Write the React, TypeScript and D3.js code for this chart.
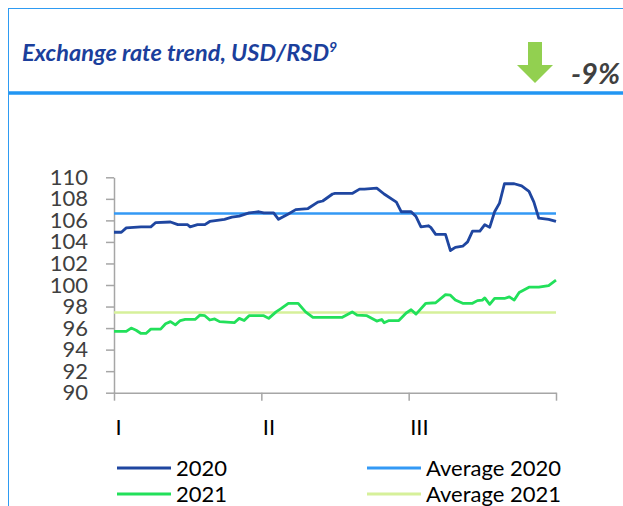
import React, { useEffect, useRef } from "react";
import * as d3 from "d3";

// ---- data (x = trading day within Q1–Q3, y = USD/RSD rate) ----
const days2020 = [0, 3, 5, 11, 15, 17, 23, 26, 30, 31, 34, 37, 39, 45, 48, 51, 55, 59, 61, 65, 67, 71, 74, 79, 83, 85, 89, 90, 97, 100, 102, 107, 110, 115, 117, 121, 123, 125, 128, 129, 131, 135, 137, 139, 142, 144, 146, 149, 151, 153, 155, 157, 159, 163, 166, 169, 171, 173, 177, 180];
const rate2020 = [104.9, 104.9, 105.3, 105.4, 105.4, 105.8, 105.85, 105.6, 105.6, 105.4, 105.6, 105.6, 105.9, 106.1, 106.3, 106.4, 106.7, 106.8, 106.7, 106.7, 106.1, 106.6, 107.0, 107.1, 107.7, 107.8, 108.45, 108.5, 108.5, 108.9, 108.9, 109.0, 108.45, 107.7, 106.8, 106.8, 106.35, 105.4, 105.5, 105.35, 104.7, 104.7, 103.2, 103.5, 103.6, 104.0, 105.0, 105.0, 105.6, 105.35, 106.8, 107.6, 109.4, 109.4, 109.2, 108.7, 107.7, 106.2, 106.1, 105.9];

const days2021 = [0, 5, 7, 9, 11, 13, 15, 19, 21, 23, 25, 27, 29, 33, 35, 37, 39, 41, 43, 49, 51, 53, 55, 61, 63, 66, 68, 71, 75, 78, 81, 93, 97, 99, 103, 107, 109, 110, 112, 116, 119, 121, 123, 127, 131, 135, 137, 139, 142, 146, 148, 150, 151, 153, 155, 159, 161, 163, 165, 169, 173, 177, 180];
const rate2021 = [95.7, 95.7, 96.0, 95.8, 95.5, 95.5, 95.9, 95.9, 96.4, 96.6, 96.3, 96.7, 96.8, 96.8, 97.2, 97.15, 96.75, 96.85, 96.6, 96.5, 96.9, 96.7, 97.15, 97.15, 96.9, 97.5, 97.8, 98.3, 98.3, 97.5, 97.0, 97.0, 97.5, 97.2, 97.15, 96.65, 96.8, 96.5, 96.7, 96.7, 97.4, 97.7, 97.3, 98.3, 98.35, 99.1, 99.05, 98.6, 98.3, 98.3, 98.55, 98.6, 98.8, 98.2, 98.75, 98.75, 98.9, 98.6, 99.3, 99.8, 99.8, 99.95, 100.45];

const average2020 = 106.65;
const average2021 = 97.45;

const yTicks = [90, 92, 94, 96, 98, 100, 102, 104, 106, 108, 110];
const quarterTicks = [0, 60, 120, 180];
const quarterLabels = ["I", "II", "III"];
const legendItems = ["2020", "2021", "Average 2020", "Average 2021"];

const C2020 = "#1f46a0";
const C2021 = "#22e05a";
const CAVG20 = "#3399f5";
const CAVG21 = "#d6f09a";

export default function App() {
  const axRef = useRef<SVGGElement>(null);
  const x = d3.scaleLinear().domain([0, 180]).range([114, 556]);
  const y = d3.scaleLinear().domain([90, 110]).range([392.7, 177.3]);

  useEffect(() => {
    const g = d3.select(axRef.current);
    g.selectAll("*").remove();
    const ya = g
      .append("g")
      .attr("transform", "translate(114,0)")
      .call(
        d3
          .axisLeft(y)
          .tickValues(yTicks)
          .tickSize(8)
          .tickSizeOuter(0)
          .tickPadding(18)
          .tickFormat(d3.format("d"))
      );
    ya.selectAll("path,line").attr("stroke", "#a6a6a6").attr("stroke-width", 1.5);
    ya.selectAll("text")
      .attr("fill", "#404040")
      .style("font-family", "Lato, 'Open Sans', sans-serif")
      .style("font-size", "22px");
    const xa = g
      .append("g")
      .attr("transform", "translate(0,392.7)")
      .call(d3.axisBottom(x).tickValues(quarterTicks).tickSize(8).tickSizeOuter(0).tickFormat(() => ""));
    xa.selectAll("path,line").attr("stroke", "#a6a6a6").attr("stroke-width", 1.5);
  }, []);

  const line = d3
    .line<[number, number]>()
    .x((d) => x(d[0]))
    .y((d) => y(d[1]));
  const d20 = line(days2020.map((d, i) => [d, rate2020[i]] as [number, number])) || "";
  const d21 = line(days2021.map((d, i) => [d, rate2021[i]] as [number, number])) || "";

  const font = "Lato, 'Open Sans', sans-serif";
  const legendPos = [
    { lx: 117, ly: 468, c: C2020 },
    { lx: 117, ly: 494, c: C2021 },
    { lx: 367, ly: 468, c: CAVG20 },
    { lx: 367, ly: 494, c: CAVG21 },
  ];

  return (
    <svg
      width={623}
      height={506}
      style={{ position: "absolute", left: 0, top: 0, background: "#fff" }}
    >
      {/* frame */}
      <line x1={8.5} y1={8.5} x2={623} y2={8.5} stroke="#2e9bf2" strokeWidth={1} />
      <line x1={8.5} y1={8} x2={8.5} y2={506} stroke="#2e9bf2" strokeWidth={1} />
      <line x1={9} y1={93} x2={623} y2={93} stroke="#2196f3" strokeWidth={3.5} />

      {/* title */}
      <text x={22} y={61} fill="#1b3f9c" fontFamily={font} fontWeight="bold" fontStyle="italic" fontSize={23.5}>
        Exchange rate trend, USD/RSD
        <tspan dy={-9} fontSize={14}>9</tspan>
      </text>

      {/* arrow */}
      <path d="M528,42 L542,42 L542,65 L553,65 L535,83 L517,65 L528,65 Z" fill="#92d050" />
      <text x={620} y={84} textAnchor="end" fill="#404040" fontFamily={font} fontWeight="bold" fontStyle="italic" fontSize={29}>
        -9%
      </text>

      <g ref={axRef} />

      {/* averages */}
      <line x1={x(0)} x2={x(180)} y1={y(average2020)} y2={y(average2020)} stroke={CAVG20} strokeWidth={2.5} />
      <line x1={x(0)} x2={x(180)} y1={y(average2021)} y2={y(average2021)} stroke={CAVG21} strokeWidth={2.5} />

      <path d={d20} fill="none" stroke={C2020} strokeWidth={2.8} strokeLinejoin="round" />
      <path d={d21} fill="none" stroke={C2021} strokeWidth={2.8} strokeLinejoin="round" />

      {/* quarter labels */}
      {quarterLabels.map((q, i) => (
        <text key={q} x={x(quarterTicks[i]) + 1.5} y={435} fill="#000" fontFamily={font} fontSize={22}>
          {q}
        </text>
      ))}

      {/* legend */}
      {legendItems.map((name, i) => (
        <g key={name}>
          <line x1={legendPos[i].lx} x2={legendPos[i].lx + 54} y1={legendPos[i].ly} y2={legendPos[i].ly} stroke={legendPos[i].c} strokeWidth={2.8} />
          <text x={legendPos[i].lx + 59} y={legendPos[i].ly + 8} fill="#000" fontFamily={font} fontSize={22}>
            {name}
          </text>
        </g>
      ))}
    </svg>
  );
}
